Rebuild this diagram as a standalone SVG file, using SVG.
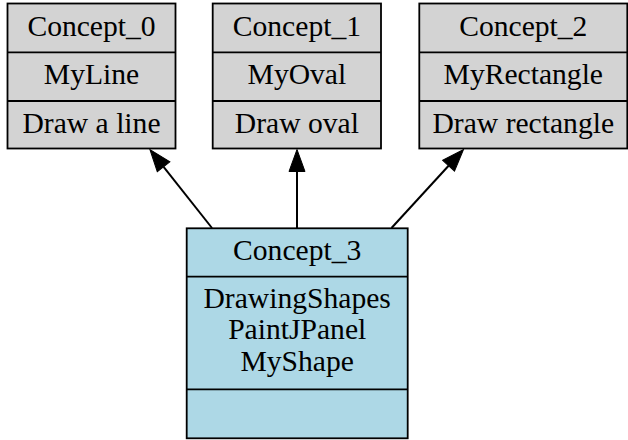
<svg xmlns="http://www.w3.org/2000/svg" width="628" height="440" viewBox="0 0 628 440">
<style>
.box{stroke:#000;stroke-width:1.8}
.gray{fill:#d3d3d3}
.blue{fill:#add8e6}
.div{stroke:#000;stroke-width:1.8}
text{font-family:"Liberation Serif","Times New Roman",serif;font-size:29.6px;fill:#000;text-anchor:middle}
.edge{stroke:#000;stroke-width:2;fill:none}
</style>
<defs>
<marker id="arr" markerUnits="userSpaceOnUse" markerWidth="24" markerHeight="18" refX="0" refY="8" orient="auto" overflow="visible">
<path d="M0,0 L22,8 L0,16 z" fill="#000" stroke="#000" stroke-width="1"/>
</marker>
</defs>
<g id="connectors">
<line class="edge" x1="212" y1="228" x2="163.6" y2="166.8" marker-end="url(#arr)"/>
<line class="edge" x1="297" y1="228" x2="297" y2="171.5" marker-end="url(#arr)"/>
<line class="edge" x1="391.5" y1="228" x2="448.6" y2="165.7" marker-end="url(#arr)"/>
</g>
<g id="concept_0">
<rect class="box gray" x="7.5" y="3.5" width="168" height="145"/>
<line class="div" x1="7.5" y1="52.3" x2="175.5" y2="52.3"/>
<line class="div" x1="7.5" y1="101" x2="175.5" y2="101"/>
<text x="91.5" y="35.5">Concept_0</text>
<text x="91.5" y="84">MyLine</text>
<text x="91.5" y="133">Draw a line</text>
</g>
<g id="concept_1">
<rect class="box gray" x="212.7" y="3.5" width="168.3" height="145"/>
<line class="div" x1="212.7" y1="52.3" x2="381" y2="52.3"/>
<line class="div" x1="212.7" y1="101" x2="381" y2="101"/>
<text x="296.9" y="35.5">Concept_1</text>
<text x="296.9" y="84">MyOval</text>
<text x="296.9" y="133">Draw oval</text>
</g>
<g id="concept_2">
<rect class="box gray" x="419.3" y="3.5" width="208" height="145"/>
<line class="div" x1="419.3" y1="52.3" x2="627.3" y2="52.3"/>
<line class="div" x1="419.3" y1="101" x2="627.3" y2="101"/>
<text x="523.3" y="35.5">Concept_2</text>
<text x="523.3" y="84">MyRectangle</text>
<text x="523.3" y="133">Draw rectangle</text>
</g>
<g id="concept_3">
<rect class="box blue" x="186.7" y="228.3" width="221" height="210"/>
<line class="div" x1="186.7" y1="276.7" x2="407.7" y2="276.7"/>
<line class="div" x1="186.7" y1="389.3" x2="407.7" y2="389.3"/>
<text x="297.2" y="259.5">Concept_3</text>
<text x="297.2" y="307.5">DrawingShapes</text>
<text x="297.2" y="339.3">PaintJPanel</text>
<text x="297.2" y="370.7">MyShape</text>
</g>
</svg>
